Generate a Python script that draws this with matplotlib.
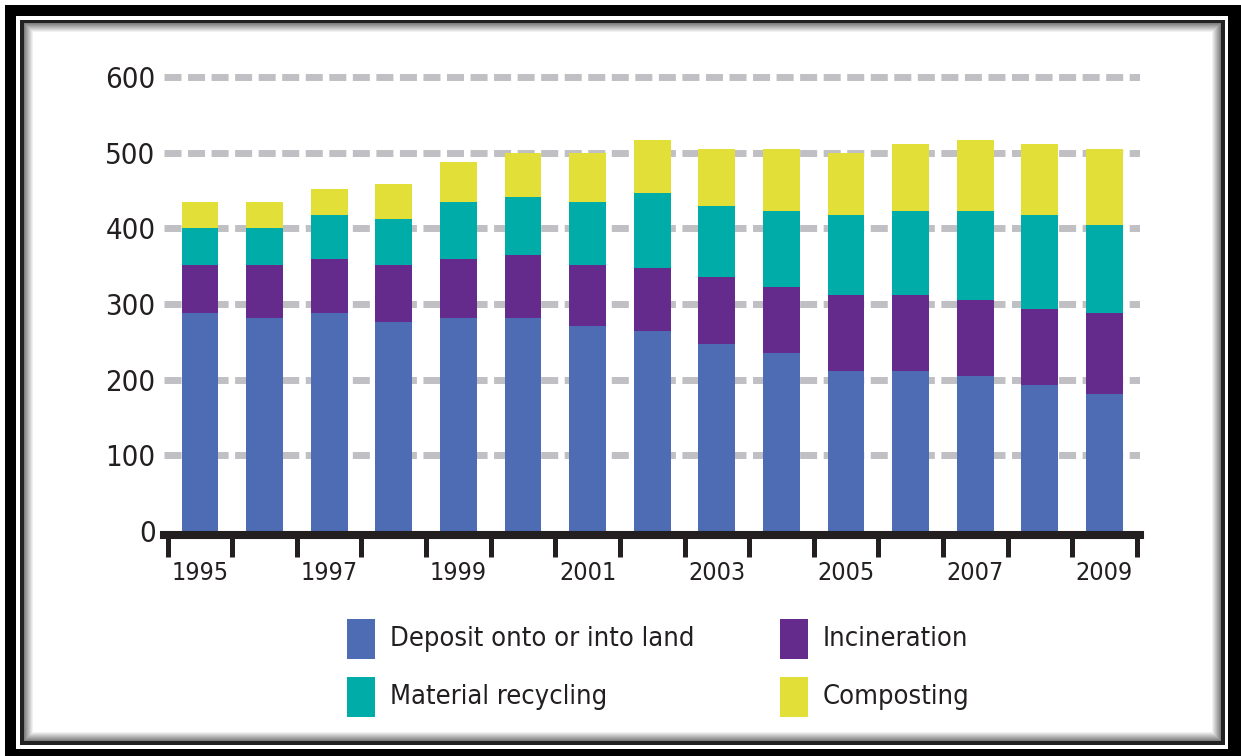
import numpy as np
import matplotlib
matplotlib.use("Agg")
import matplotlib.pyplot as plt
from matplotlib.patches import Rectangle

years = list(range(1995, 2010))
deposit = [288, 281, 288, 276, 281, 281, 271, 264, 247, 235, 212, 212, 205, 193, 181]
incineration = [64, 71, 71, 76, 78, 84, 81, 83, 88, 88, 100, 100, 100, 100, 107]
recycling = [48, 48, 58, 60, 76, 76, 83, 100, 94, 100, 105, 111, 118, 124, 117]
composting = [35, 35, 35, 47, 53, 59, 65, 70, 76, 82, 83, 88, 94, 94, 100]

labels = ["Deposit onto or into land", "Incineration", "Material recycling", "Composting"]
colors = ["#4e6cb4", "#652b8c", "#00aca7", "#e1df38"]

W, H = 1241, 756
TXT = "#231f20"
plt.rcParams["font.family"] = ["DejaVu Sans"]
plt.rcParams["font.stretch"] = "condensed"


def fx(x):
    return x / W


def fy(y):
    return 1 - y / H


fig = plt.figure(figsize=(W / 100, H / 100), dpi=100)

# picture frame: thick outer band, thin inner line, soft inner shadow
def frame_rect(x0, y0, x1, y1, color):
    fig.add_artist(Rectangle((fx(x0), fy(y1)), fx(x1) - fx(x0), fy(y0) - fy(y1),
                             transform=fig.transFigure, facecolor=color,
                             edgecolor="none", zorder=0))

frame_rect(5, 5, 1241, 756, "black")
frame_rect(16, 16, 1228, 749, "white")
frame_rect(20, 20, 1225, 745, "#222222")
for k, g in enumerate(np.linspace(0.5, 1.0, 10)):
    frame_rect(24 + k, 23 + k, 1221 - k, 741 - k, str(g))

# plot area
ax = fig.add_axes([fx(164), fy(535), fx(1140) - fx(164), fy(69.4) - fy(535)])
ax.patch.set_alpha(0)

x = np.arange(len(years))
bottom = np.zeros(len(years))
for vals, c in zip([deposit, incineration, recycling, composting], colors):
    ax.bar(x, vals, width=0.57, bottom=bottom, color=c, zorder=2)
    bottom += np.array(vals)

ax.set_xlim(-0.557, 14.55)
ax.set_ylim(-5.3, 610)

ax.set_yticks(range(0, 601, 100))
ax.yaxis.grid(True, color="#c0c0c4", linewidth=5, linestyle=(0, (2.45, 0.94)))
ax.yaxis.get_gridlines()[0].set_visible(False)
ax.set_axisbelow(True)
ax.tick_params(axis="y", length=0, pad=6, labelsize=21, labelcolor=TXT)

ax.set_xticks(np.arange(-0.5, 15, 1.0))
ax.set_xticklabels([])
ax.set_xticks(x[::2], minor=True)
ax.set_xticklabels([str(y) for y in years[::2]], minor=True)
ax.tick_params(axis="x", which="major", length=15.8, width=3.6, color=TXT)
ax.tick_params(axis="x", which="minor", length=0, pad=19, labelsize=18, labelcolor=TXT)

for s in ["top", "right", "left"]:
    ax.spines[s].set_visible(False)
ax.spines["bottom"].set_linewidth(5.8)
ax.spines["bottom"].set_color(TXT)

# legend, two rows by two columns
legend_pos = [(347, 619), (780, 619), (347, 677), (780, 677)]
for (px, py), lab, c in zip(legend_pos, labels, colors):
    fig.add_artist(Rectangle((fx(px), fy(py + 40)), fx(28), 40 / H,
                             transform=fig.transFigure, facecolor=c, edgecolor="none"))
    fig.text(fx(px + 43), fy(py + 20), lab, fontsize=19.5, color=TXT,
             ha="left", va="center")

fig.savefig("out.png", dpi=100)
